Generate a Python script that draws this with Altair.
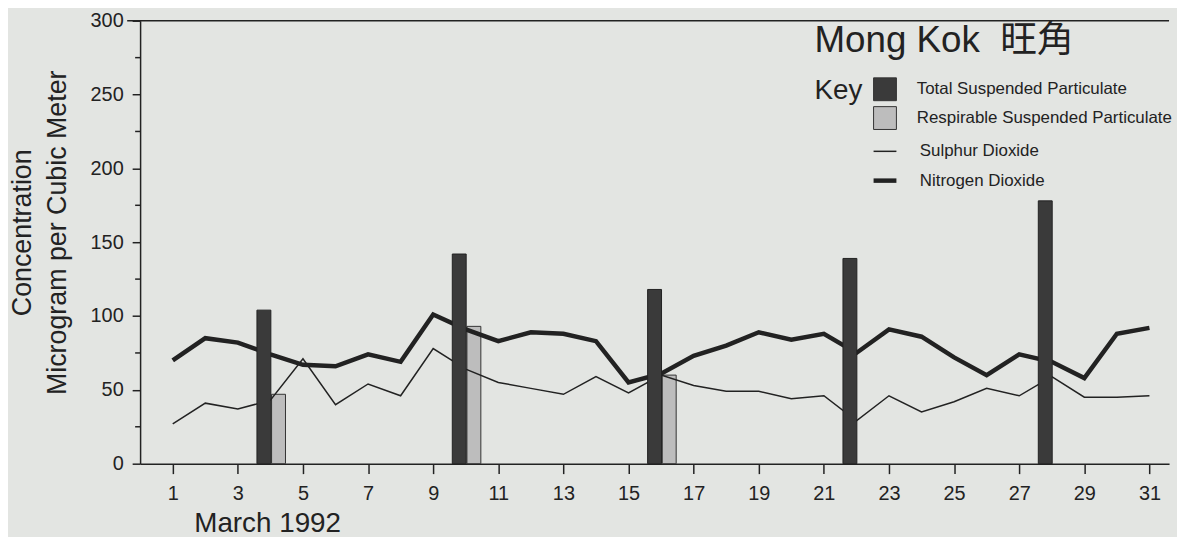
import altair as alt
import pandas as pd

# ---- data ----
days = list(range(1, 32))
no2 = [70, 85, 82, 74, 67, 66, 74, 69, 101, 91, 83, 89, 88, 83, 55, 61,
       73, 80, 89, 84, 88, 75, 91, 86, 72, 60, 74, 69, 58, 88, 92]
so2 = [27, 41, 37, 43, 71, 40, 54, 46, 78, 64, 55, 51, 47, 59, 48, 60,
       53, 49, 49, 44, 46, 29, 46, 35, 42, 51, 46, 59, 45, 45, 46]
tsp_days = [4, 10, 16, 22, 28]
tsp = [104, 142, 118, 139, 178]
rsp_days = [4, 10, 16]
rsp = [47, 93, 60]

x_ticks = list(range(1, 32, 2))
y_ticks = [0, 50, 100, 150, 200, 250, 300]
y_minor = [25, 75, 125, 175, 225, 275]

TSP = "Total Suspended Particulate"
RSP = "Respirable Suspended Particulate"
SO2 = "Sulphur Dioxide"
NO2 = "Nitrogen Dioxide"

# bar pair offsets (in days) around each sampling day
TSP_SHIFT = -0.2
RSP_SHIFT = 0.25

tsp_df = pd.DataFrame({"day": [d + TSP_SHIFT for d in tsp_days], "value": tsp, "series": TSP})
rsp_df = pd.DataFrame({"day": [d + RSP_SHIFT for d in rsp_days], "value": rsp, "series": RSP})
line_df = pd.concat([
    pd.DataFrame({"day": days, "value": so2, "series": SO2}),
    pd.DataFrame({"day": days, "value": no2, "series": NO2}),
])

W, H = 1036, 446
FONT = "Liberation Sans"
INK = "#222222"

xscale = alt.Scale(domain=[0.15, 31.45], nice=False, zero=False)
yscale = alt.Scale(domain=[0, 300], nice=False)

x_enc = alt.X("day:Q", scale=xscale,
              axis=alt.Axis(values=x_ticks, tickSize=10, labelPadding=10, labelFontSize=20,
                            title="March 1992", titleFontSize=28, titleFontWeight="normal",
                            titleAlign="left", titleAngle=0, titleX=54, titleY=68,
                            titleBaseline="alphabetic", domainWidth=1.5, tickWidth=1.5,
                            labelFlush=False, labelOverlap=False))
y_enc = alt.Y("value:Q", scale=yscale,
              axis=alt.Axis(values=y_ticks, tickSize=8, labelPadding=9, labelFontSize=20,
                            title=["Concentration", "Microgram per Cubic Meter"],
                            titleFontSize=27, titleFontWeight="normal", titleLineHeight=35,
                            titleAngle=270, titleBaseline="top", titleAlign="center",
                            titleX=-131, titleY=213, domainWidth=1.5, tickWidth=1.5,
                            labelFlush=False))

fill_scale = alt.Scale(domain=[TSP, RSP], range=["#3a3a3a", "#bdbdbd"])
fill_legend = alt.Legend(title="Key", titleOrient="left", titleFontSize=28, titleFontWeight="normal",
                         titleColor=INK, titlePadding=10, titleAnchor="start", titleBaseline="top",
                         orient="none", legendX=679, legendY=57, symbolType="square", symbolSize=529,
                         symbolStrokeColor="#333333", symbolStrokeWidth=1, labelFontSize=17,
                         labelOffset=20, rowPadding=1, padding=0, labelColor=INK, labelLimit=400)

sw_scale = alt.Scale(domain=[SO2, NO2], range=[1.5, 4.5])
sw_legend = alt.Legend(title=None, orient="none", legendX=736, legendY=119, symbolType="stroke",
                       symbolSize=529, symbolStrokeColor=INK, labelFontSize=17, labelOffset=21,
                       rowPadding=7, padding=0, labelColor=INK, labelLimit=400)

rsp_bars = alt.Chart(rsp_df).mark_bar(size=14, stroke="#333333", strokeWidth=1).encode(
    x=x_enc, y=y_enc,
    fill=alt.Fill("series:N", scale=fill_scale, legend=fill_legend),
)

lines = alt.Chart(line_df).mark_line(color=INK).encode(
    x="day:Q", y="value:Q",
    strokeWidth=alt.StrokeWidth("series:O", scale=sw_scale, legend=sw_legend, sort=[SO2, NO2]),
    detail="series:N",
)

tsp_bars = alt.Chart(tsp_df).mark_bar(size=14, stroke="#222222", strokeWidth=1).encode(
    x="day:Q", y="value:Q",
    fill=alt.Fill("series:N", scale=fill_scale, legend=fill_legend),
)

top_rule = alt.Chart(pd.DataFrame({"v": [300]})).mark_rule(color=INK, strokeWidth=1.5).encode(
    y="v:Q", x=alt.value(-13), x2=alt.value(W)
)

minor = alt.Chart(pd.DataFrame({"v": y_minor})).mark_rule(color=INK, strokeWidth=1.5).encode(
    y="v:Q", x=alt.value(-5), x2=alt.value(0)
)

chart = alt.layer(rsp_bars, lines, tsp_bars, top_rule, minor).properties(
    width=W, height=H,
    autosize=alt.AutoSizeParams(type="none"),
    padding={"left": 133, "top": 11, "right": 8, "bottom": 72},
    background="#e3e5e2",
    title=alt.TitleParams(text="Mong Kok \u00a0旺角", anchor="start", orient="top", frame="group",
                          fontSize=37, font=FONT + ", Noto Sans CJK TC", fontWeight="normal",
                          color=INK, dx=679, dy=49, baseline="top", offset=0),
).configure_axis(
    domainColor=INK, tickColor=INK, labelColor=INK, titleColor=INK, grid=False,
    labelFont=FONT, titleFont=FONT,
).configure_legend(labelFont=FONT, titleFont=FONT).configure_view(strokeOpacity=0)

chart.save("out.html", embed_options={"renderer": "svg", "actions": False})
